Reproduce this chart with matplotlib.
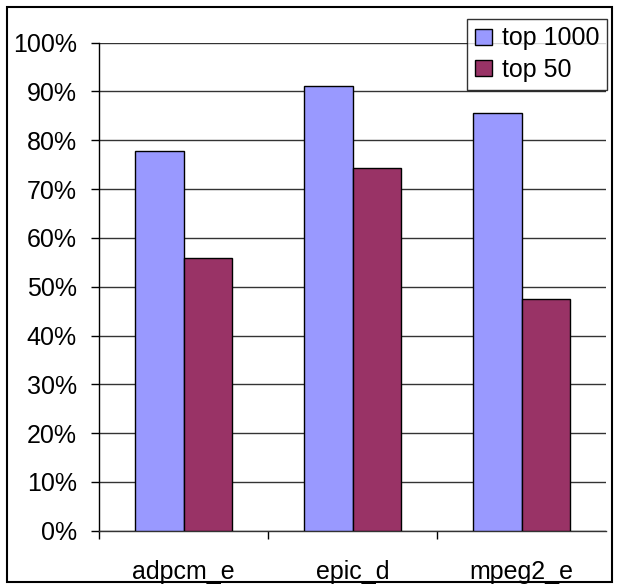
import matplotlib
matplotlib.use("Agg")
import matplotlib.pyplot as plt
from matplotlib.patches import Rectangle
import numpy as np

categories = ["adpcm_e", "epic_d", "mpeg2_e"]
top1000 = [77.9, 91.1, 85.5]
top50 = [55.8, 74.3, 47.4]
series_names = ["top 1000", "top 50"]
yticks = [0, 10, 20, 30, 40, 50, 60, 70, 80, 90, 100]

plt.rcParams['font.family'] = ['Liberation Sans', 'DejaVu Sans']

W, H = 618, 587
FS = 18
fig = plt.figure(figsize=(W/100, H/100), dpi=100)
ax = fig.add_axes([99/W, 1-530.7/H, (606-99)/W, (530.7-42.7)/H])

x = np.arange(len(categories))
w = 1/3.5
ax.bar(x - w/2, top1000, w, color="#9999FF", edgecolor="black", linewidth=1, label=series_names[0], zorder=3)
ax.bar(x + w/2, top50, w, color="#993366", edgecolor="black", linewidth=1, label=series_names[1], zorder=3)

ax.set_xlim(-0.5, 2.5)
ax.set_ylim(0, 100)
ax.set_yticks(yticks)
ax.set_yticklabels([f"{v}%" for v in yticks], fontsize=FS)
ax.yaxis.grid(True, color="#333333", linewidth=1)
ax.set_axisbelow(True)

ax.set_xticks([-0.5, 0.5, 1.5])
ax.set_xticklabels([])
ax.set_xticks(x, minor=True)
ax.set_xticklabels(categories, minor=True, fontsize=FS)
ax.tick_params(axis='x', which='major', length=6, direction='out', width=1)
ax.tick_params(axis='x', which='minor', length=0, pad=21)
ax.tick_params(axis='y', length=6, direction='out', width=1, pad=10)

for s in ["top", "right"]:
    ax.spines[s].set_visible(False)
ax.spines["left"].set_linewidth(1)
ax.spines["bottom"].set_linewidth(1)
ax.spines["bottom"].set_color("#333333")

leg = ax.legend(loc="upper right", bbox_to_anchor=(607/W, 1-18.5/H), bbox_transform=fig.transFigure,
                fontsize=FS, frameon=True, fancybox=False, edgecolor="black",
                handlelength=0.65, handleheight=0.6, handletextpad=0.4, borderpad=0.32,
                labelspacing=0.3, borderaxespad=0)
leg.get_frame().set_linewidth(1)

fig.patches.append(Rectangle((7/W, 1-582/H), 605/W, 575/H, transform=fig.transFigure,
                             fill=False, edgecolor="black", linewidth=1.5))

fig.savefig("out.png", dpi=100)
